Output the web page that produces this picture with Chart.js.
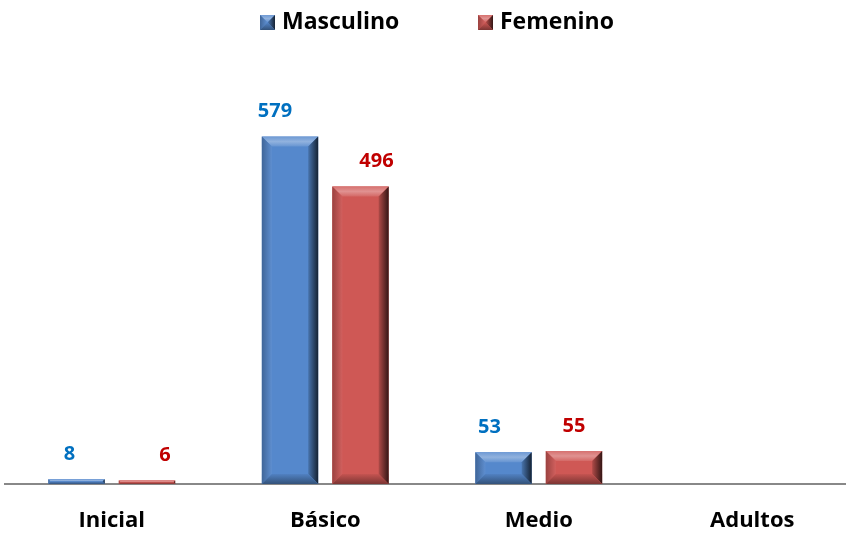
<!DOCTYPE html>
<html>
<head>
<meta charset="utf-8">
<script src="https://cdn.jsdelivr.net/npm/chart.js@4"></script>
<style>
  html, body { margin: 0; padding: 0; background: #fff; overflow: hidden; }
  #wrap { width: 860px; height: 534px; }
</style>
</head>
<body>
<div id="wrap"><canvas id="myChart"></canvas></div>
<script>
var niveles = ['Inicial', 'Básico', 'Medio', 'Adultos'];
var series = ['Masculino', 'Femenino'];
var masculino = [8, 579, 53, null];
var femenino = [6, 496, 55, null];

var FONT = '"Open Sans", Lato, sans-serif';

// the value labels in the original were nudged by hand
var labelShift = [[-7, -15, -14, 0], [18, 16, 0, 0]];

// lighten (f>0) / darken (f<0) an rgb triple
function shade(c, f) {
    var r = f > 0 ? c.map(function (v) { return Math.round(v + (255 - v) * f); })
                  : c.map(function (v) { return Math.round(v * (1 + f)); });
    return 'rgb(' + r.join(',') + ')';
}

function panel(g, pts, grad) {
    g.fillStyle = grad;
    g.beginPath();
    g.moveTo(pts[0], pts[1]);
    for (var k = 2; k < pts.length; k += 2) g.lineTo(pts[k], pts[k + 1]);
    g.closePath();
    g.fill();
}

function bevelBox(g, x0, y0, x1, y1, col, d) {
    g.fillStyle = shade(col, 0);
    g.fillRect(x0, y0, x1 - x0, y1 - y0);
    var gr;
    // top
    gr = g.createLinearGradient(0, y0, 0, y0 + d);
    gr.addColorStop(0, shade(col, 0.15));
    gr.addColorStop(0.5, shade(col, 0.35));
    gr.addColorStop(1, shade(col, 0.1));
    panel(g, [x0, y0, x1, y0, x1 - d, y0 + d, x0 + d, y0 + d], gr);
    // left
    gr = g.createLinearGradient(x0, 0, x0 + d, 0);
    gr.addColorStop(0, shade(col, -0.25));
    gr.addColorStop(1, shade(col, 0.05));
    panel(g, [x0, y0, x0 + d, y0 + d, x0 + d, y1 - d, x0, y1], gr);
    // right
    gr = g.createLinearGradient(x1 - d, 0, x1, 0);
    gr.addColorStop(0, shade(col, -0.15));
    gr.addColorStop(1, shade(col, -0.75));
    panel(g, [x1, y0, x1, y1, x1 - d, y1 - d, x1 - d, y0 + d], gr);
    // bottom
    gr = g.createLinearGradient(0, y1 - d, 0, y1);
    gr.addColorStop(0, shade(col, -0.05));
    gr.addColorStop(1, shade(col, -0.4));
    panel(g, [x0, y1, x1, y1, x1 - d, y1 - d, x0 + d, y1 - d], gr);
}

var azul = [85, 136, 204];
var rojo = [207, 88, 85];
var cols = [azul, rojo];
var txtCols = ['#0070C0', '#C00000'];

var bevelPlugin = {
    id: 'bevel',
    afterDatasetsDraw: function (chart) {
        var g = chart.ctx;
        chart.data.datasets.forEach(function (ds, i) {
            chart.getDatasetMeta(i).data.forEach(function (bar, j) {
                if (ds.data[j] == null) return;
                var x0 = bar.x - bar.width / 2, x1 = bar.x + bar.width / 2;
                var y0 = bar.y, y1 = bar.base;
                var d = Math.min(10, (y1 - y0) / 2);
                g.save();
                bevelBox(g, x0, y0, x1, y1, cols[i], d);
                g.fillStyle = txtCols[i];
                g.font = 'bold 20px ' + FONT;
                g.textAlign = 'center';
                g.textBaseline = 'middle';
                g.fillText(ds.data[j], bar.x + labelShift[i][j], y0 - 25);
                g.restore();
            });
        });

        // legend
        var lx = [260, 478];
        g.save();
        g.font = 'bold 23px ' + FONT;
        g.textBaseline = 'middle';
        g.textAlign = 'left';
        series.forEach(function (s, i) {
            bevelBox(g, lx[i], 15, lx[i] + 15, 30, cols[i], 7);
            g.fillStyle = '#000';
            g.fillText(s, lx[i] + 22, 22);
        });
        g.restore();
    }
};

new Chart(document.getElementById('myChart'), {
    type: 'bar',
    data: {
        labels: niveles,
        datasets: [{
            label: series[0],
            data: masculino,
            backgroundColor: 'rgba(0,0,0,0)',
            categoryPercentage: 0.66,
            barPercentage: 0.8
        }, {
            label: series[1],
            data: femenino,
            backgroundColor: 'rgba(0,0,0,0)',
            categoryPercentage: 0.66,
            barPercentage: 0.8
        }]
    },
    options: {
        responsive: true,
        maintainAspectRatio: false,
        animation: false,
        layout: { padding: { left: 5, right: 1, top: 64, bottom: 0 } },
        plugins: {
            tooltip: { enabled: false },
            legend: { display: false }
        },
        scales: {
            x: {
                grid: { display: false, drawTicks: false },
                border: { color: '#888', width: 2 },
                afterFit: function (scale) { scale.height = 50; },
                ticks: {
                    color: '#000',
                    padding: 24,
                    font: { family: FONT, size: 22, weight: 'bold' }
                }
            },
            y: {
                display: false,
                min: 0,
                max: 700
            }
        }
    },
    plugins: [bevelPlugin]
});
</script>
</body>
</html>
